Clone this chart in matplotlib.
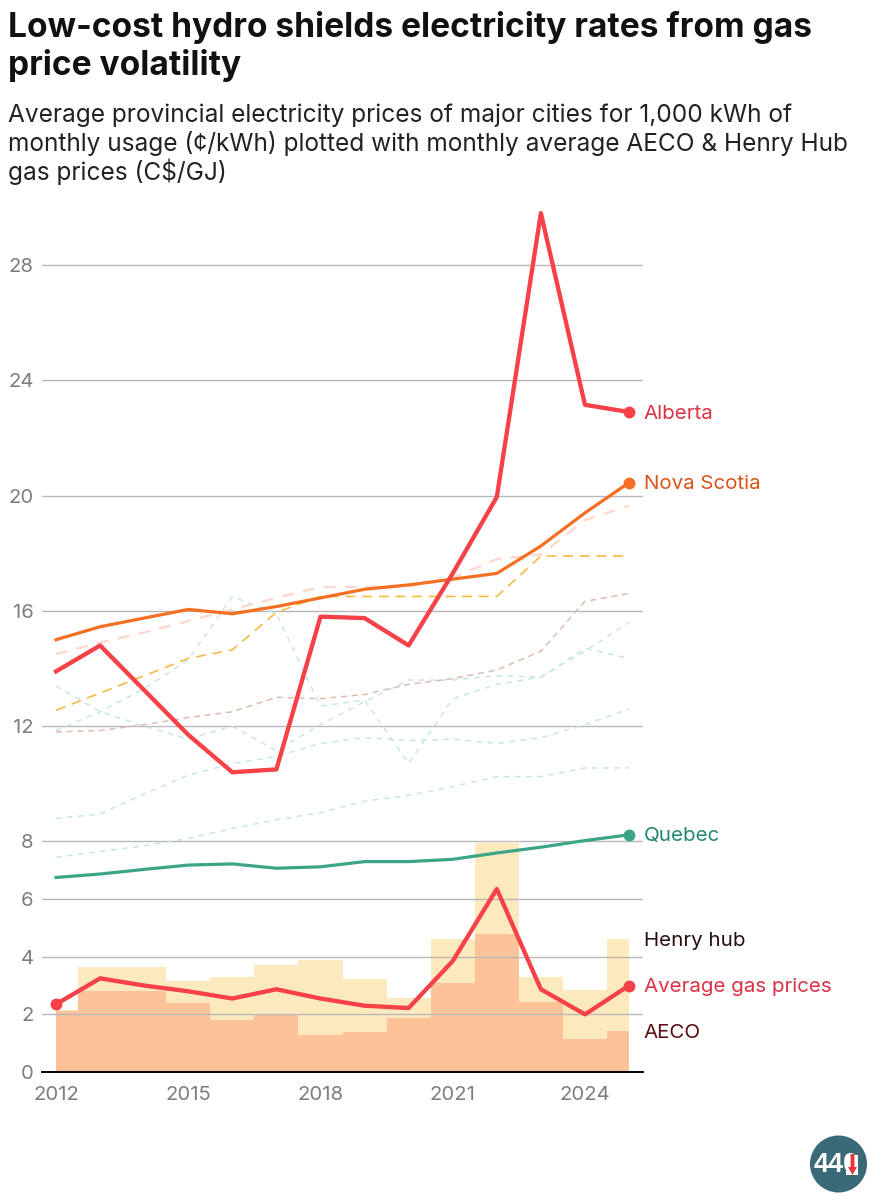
import matplotlib
matplotlib.use('Agg')
import matplotlib.pyplot as plt
from matplotlib.patches import Circle, Polygon, Rectangle

plt.rcParams['font.family'] = ['Inter', 'DejaVu Sans']

years = list(range(2012, 2026))
alberta = [13.9, 14.8, 13.25, 11.7, 10.4, 10.5, 15.8, 15.75, 14.8, 17.3, 19.95, 29.8, 23.15, 22.9]
nova_scotia = [15.0, 15.45, 15.75, 16.05, 15.9, 16.15, 16.45, 16.75, 16.9, 17.1, 17.3, 18.25, 19.4, 20.45]
quebec = [6.75, 6.87, 7.03, 7.18, 7.22, 7.07, 7.12, 7.3, 7.3, 7.38, 7.6, 7.8, 8.03, 8.23]
avg_gas = [2.35, 3.25, 3.0, 2.8, 2.55, 2.87, 2.55, 2.3, 2.22, 3.85, 6.35, 2.87, 2.0, 3.0]
henry_hub = [2.15, 3.65, 3.65, 3.15, 3.3, 3.72, 3.87, 3.23, 2.57, 4.6, 7.95, 3.28, 2.83, 4.6]
aeco = [2.12, 2.82, 2.82, 2.4, 1.8, 2.0, 1.27, 1.38, 1.88, 3.08, 4.8, 2.43, 1.15, 1.42]

# other provinces, drawn faint and dashed
yellow_prov = [12.55, 13.15, 13.75, 14.35, 14.65, 15.95, 16.5, 16.5, 16.5, 16.5, 16.5, 17.9, 17.9, 17.9]
pink_prov = [14.5, 14.9, 15.25, 15.65, 16.05, 16.45, 16.83, 16.83, 16.85, 17.15, 17.8, 17.95, 19.15, 19.65]
brown_prov = [11.8, 11.85, 12.05, 12.3, 12.5, 13.0, 12.95, 13.1, 13.45, 13.65, 13.95, 14.6, 16.33, 16.6]
blue_a = [13.4, 12.5, 12.0, 11.55, 12.0, 11.15, 12.05, 12.85, 13.6, 13.6, 13.75, 13.7, 14.6, 15.6]
blue_b = [11.85, 12.5, 13.3, 14.3, 16.5, 15.9, 12.7, 12.9, 10.7, 12.95, 13.45, 13.7, 14.7, 14.35]
blue_c = [8.8, 8.95, 9.65, 10.3, 10.7, 10.95, 11.4, 11.6, 11.5, 11.55, 11.4, 11.6, 12.05, 12.6]
blue_d = [7.45, 7.65, 7.85, 8.1, 8.45, 8.75, 9.0, 9.4, 9.6, 9.9, 10.25, 10.25, 10.55, 10.55]

y_ticks = [0, 2, 4, 6, 8, 12, 16, 20, 24, 28]
x_ticks = [2012, 2015, 2018, 2021, 2024]

W, H = 874, 1200
fig = plt.figure(figsize=(W / 100, H / 100), dpi=100, facecolor='white')
ax = fig.add_axes([42 / W, 1 - 1072 / H, (643 - 42) / W, (1072 - 205) / H])
ax.set_xlim(2012 - 14 / 44.08, 2012 + 587 / 44.08)
ax.set_ylim(0, 867 / 28.82)

ax.fill_between(years, henry_hub, step='mid', color='#FDE9BE', lw=0, zorder=1)
ax.fill_between(years, aeco, step='mid', color='#FCC399', lw=0, zorder=1.5)

for s in ax.spines.values():
    s.set_visible(False)
ax.set_yticks(y_ticks)
ax.set_xticks(x_ticks)
ax.tick_params(length=0, labelsize=14.6, labelcolor='#7d7d7d', pad=6)
ax.tick_params(axis='x', pad=10)
ax.grid(axis='y', color='#b8b8b8', lw=1.0, zorder=2)
ax.grid(axis='x', visible=False)
ax.set_axisbelow(False)
ax.axhline(0, color='black', lw=1.4, zorder=6, clip_on=False)

for vals in (blue_a, blue_b, blue_c, blue_d):
    ax.plot(years, vals, color='#C4E4E4', lw=1.0, dashes=(4, 4), zorder=3)
ax.plot(years, brown_prov, color='#DDBDB0', lw=1.1, dashes=(4, 3), zorder=3)
ax.plot(years, pink_prov, color='#FCD9CE', lw=1.7, dashes=(5, 4), zorder=3)
ax.plot(years, yellow_prov, color='#F6BC45', lw=1.2, dashes=(6, 4), zorder=3)

ax.plot(years, quebec, color='#3BA585', lw=2.3, zorder=4)
ax.plot(years, nova_scotia, color='#F56F22', lw=2.3, zorder=4)
ax.plot(years, alberta, color='#F54147', lw=3.1, zorder=5)
ax.plot(years, avg_gas, color='#F54147', lw=3.1, zorder=5)

ax.plot(years[-1], quebec[-1], 'o', color='#3BA585', ms=7.5, zorder=6)
ax.plot(years[-1], nova_scotia[-1], 'o', color='#F56F22', ms=7.5, zorder=6)
ax.plot(years[-1], alberta[-1], 'o', color='#F54147', ms=7.5, zorder=6)
ax.plot(years[-1], avg_gas[-1], 'o', color='#F54147', ms=7.5, zorder=6)
ax.plot(years[0], avg_gas[0], 'o', color='#F54147', ms=7.5, zorder=6)

end_labels = [('Alberta', alberta[-1], '#DC3246'), ('Nova Scotia', nova_scotia[-1], '#D9541A'),
              ('Quebec', quebec[-1], '#24896F'), ('Henry hub', henry_hub[-1], '#2A0F10'),
              ('Average gas prices', avg_gas[-1], '#DC3246'), ('AECO', aeco[-1], '#5A0E16')]
for name, val, col in end_labels:
    ax.annotate(name, (years[-1], val), xytext=(10.5, -1.2), textcoords='offset points',
                color=col, fontsize=14.8, va='center', ha='left', annotation_clip=False)

fig.text(8 / W, 1 - 27 / H, 'Low-cost hydro shields electricity rates from gas', fontsize=24.1,
         fontweight='bold', color='#111111', va='center')
fig.text(8 / W, 1 - 65 / H, 'price volatility', fontsize=24.1, fontweight='bold', color='#111111', va='center')
for txt, y in [('Average provincial electricity prices of major cities for 1,000 kWh of', 115),
               ('monthly usage (¢/kWh) plotted with monthly average AECO & Henry Hub', 144),
               ('gas prices (C$/GJ)', 172)]:
    fig.text(8 / W, 1 - y / H, txt, fontsize=17.6, color='#222222', va='center')

# logo
logo = fig.add_axes([0, 0, 1, 1], facecolor='none')
logo.set_xlim(0, W)
logo.set_ylim(H, 0)
logo.axis('off')
logo.add_patch(Circle((838.5, 1164), 28.5, color='#3A6A77', lw=0))
logo.text(836, 1165, '440', color='white', fontsize=19.5, fontweight='bold', ha='center', va='center',
          family=['Liberation Sans'])
logo.add_patch(Rectangle((846, 1155), 12, 20, color='white', lw=0, zorder=4))
logo.add_patch(Polygon([(850.6, 1154), (854.4, 1154), (854.4, 1167), (857, 1167), (852.5, 1175), (848, 1167), (850.6, 1167)],
                       color='#E8353B', lw=0, zorder=5))

fig.savefig('out.png', dpi=100)
